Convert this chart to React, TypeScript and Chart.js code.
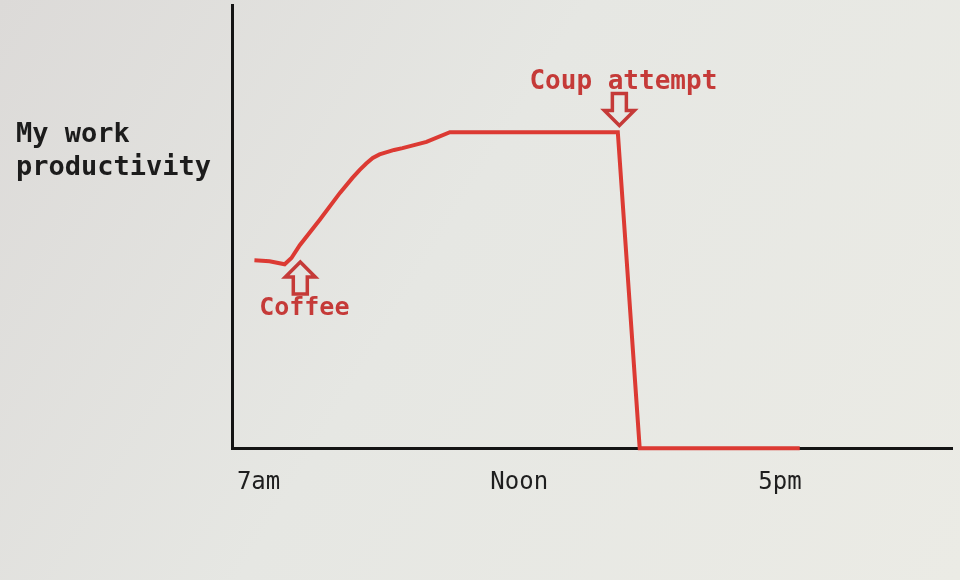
import React, { useEffect, useRef } from "react";
import { Chart, registerables } from "chart.js";

Chart.register(...registerables);

// Data (x = hour of day, y = productivity 0..100)
const hours = [6.92, 7.21, 7.5, 7.63, 7.79, 8.17, 8.56, 8.8, 8.94, 9.07, 9.19, 9.32, 9.46, 9.6, 9.76, 10.22, 10.67, 13.89, 14.31, 17.38];
const productivity = [42.4, 42.2, 41.5, 42.9, 45.8, 51.5, 57.6, 61.0, 62.8, 64.3, 65.5, 66.3, 66.8, 67.3, 67.7, 69.1, 71.3, 71.3, 0, 0];

const tickHours = [7, 12, 17];
const tickLabels = ["7am", "Noon", "5pm"];
const yTitleLines = ["My work", "productivity"];

const eventLabels = ["Coffee", "Coup attempt"];
const eventHours = [7.8, 13.92];
const eventValues = [42.0, 72.8];
const eventDirections = ["up", "down"];

const LINE_RED = "#dc3a33";
const TEXT_RED = "#c53a38";
const MONO = '"DejaVu Sans Mono", "Liberation Mono", monospace';

function drawArrow(ctx: CanvasRenderingContext2D, x: number, tipY: number, dir: string) {
  const headH = 15;
  const headW = 15;
  const shaftW = 7;
  const shaftH = 17;
  const s = dir === "up" ? 1 : -1;
  ctx.beginPath();
  ctx.moveTo(x, tipY);
  ctx.lineTo(x + headW, tipY + s * headH);
  ctx.lineTo(x + shaftW, tipY + s * headH);
  ctx.lineTo(x + shaftW, tipY + s * (headH + shaftH));
  ctx.lineTo(x - shaftW, tipY + s * (headH + shaftH));
  ctx.lineTo(x - shaftW, tipY + s * headH);
  ctx.lineTo(x - headW, tipY + s * headH);
  ctx.closePath();
  ctx.stroke();
}

const decorPlugin = {
  id: "decor",
  beforeDraw(chart: any) {
    const { ctx, width, height } = chart;
    ctx.save();
    const g = ctx.createLinearGradient(0, 0, width, height);
    g.addColorStop(0, "#dcdad8");
    g.addColorStop(0.45, "#e6e7e3");
    g.addColorStop(1, "#ebebe5");
    ctx.fillStyle = g;
    ctx.fillRect(0, 0, width, height);
    ctx.restore();
  },
  afterDatasetsDraw(chart: any) {
    const { ctx, scales } = chart;
    const xs = scales.x;
    const ys = scales.y;
    ctx.save();
    // y-axis title
    ctx.fillStyle = "#1c1c1c";
    ctx.font = `bold 27px ${MONO}`;
    ctx.textAlign = "left";
    ctx.textBaseline = "middle";
    yTitleLines.forEach((t, i) => ctx.fillText(t, 16, 135 + i * 33));

    // event annotations
    ctx.strokeStyle = TEXT_RED;
    ctx.lineWidth = 3.5;
    ctx.lineJoin = "miter";
    ctx.fillStyle = TEXT_RED;
    ctx.textAlign = "center";
    eventLabels.forEach((label, i) => {
      const px = xs.getPixelForValue(eventHours[i]);
      const py = ys.getPixelForValue(eventValues[i]);
      const dir = eventDirections[i];
      drawArrow(ctx, px, py, dir);
      ctx.font = `bold ${dir === "up" ? 25 : 26}px ${MONO}`;
      const ty = dir === "up" ? py + 46 : py - 43;
      ctx.fillText(label, px + 4, ty);
    });
    ctx.restore();
  },
};

export default function App() {
  const ref = useRef<HTMLCanvasElement | null>(null);

  useEffect(() => {
    document.body.style.margin = "0";
    const canvas = ref.current;
    if (!canvas) return;
    const chart = new Chart(canvas, {
      type: "line",
      data: {
        datasets: [
          {
            data: hours.map((h, i) => ({ x: h, y: productivity[i] })),
            borderColor: LINE_RED,
            borderWidth: 4,
            pointRadius: 0,
            tension: 0,
            fill: false,
            clip: 10,
          },
        ],
      },
      options: {
        animation: false,
        responsive: false,
        maintainAspectRatio: false,
        layout: { padding: { left: 232, top: 5, right: 8, bottom: 63 } },
        plugins: { legend: { display: false }, tooltip: { enabled: false } },
        scales: {
          x: {
            type: "linear",
            min: 6.49,
            max: 20.3,
            grid: { display: false, drawTicks: false },
            border: { display: true, color: "#141414", width: 3 },
            afterBuildTicks: (axis: any) => {
              axis.ticks = tickHours.map((v) => ({ value: v }));
            },
            ticks: {
              color: "#1e1e1e",
              padding: 20,
              font: { family: MONO, size: 24 },
              callback: (v: any) => {
                const idx = tickHours.indexOf(Number(v));
                return idx >= 0 ? tickLabels[idx] : "";
              },
            },
          },
          y: {
            min: 0,
            max: 100,
            grid: { display: false, drawTicks: false },
            border: { display: true, color: "#141414", width: 3 },
            ticks: { display: false },
          },
        },
      },
      plugins: [decorPlugin],
    });
    return () => chart.destroy();
  }, []);

  return (
    <div style={{ width: 960, height: 580 }}>
      <canvas ref={ref} width={960} height={580} style={{ display: "block" }} />
    </div>
  );
}
